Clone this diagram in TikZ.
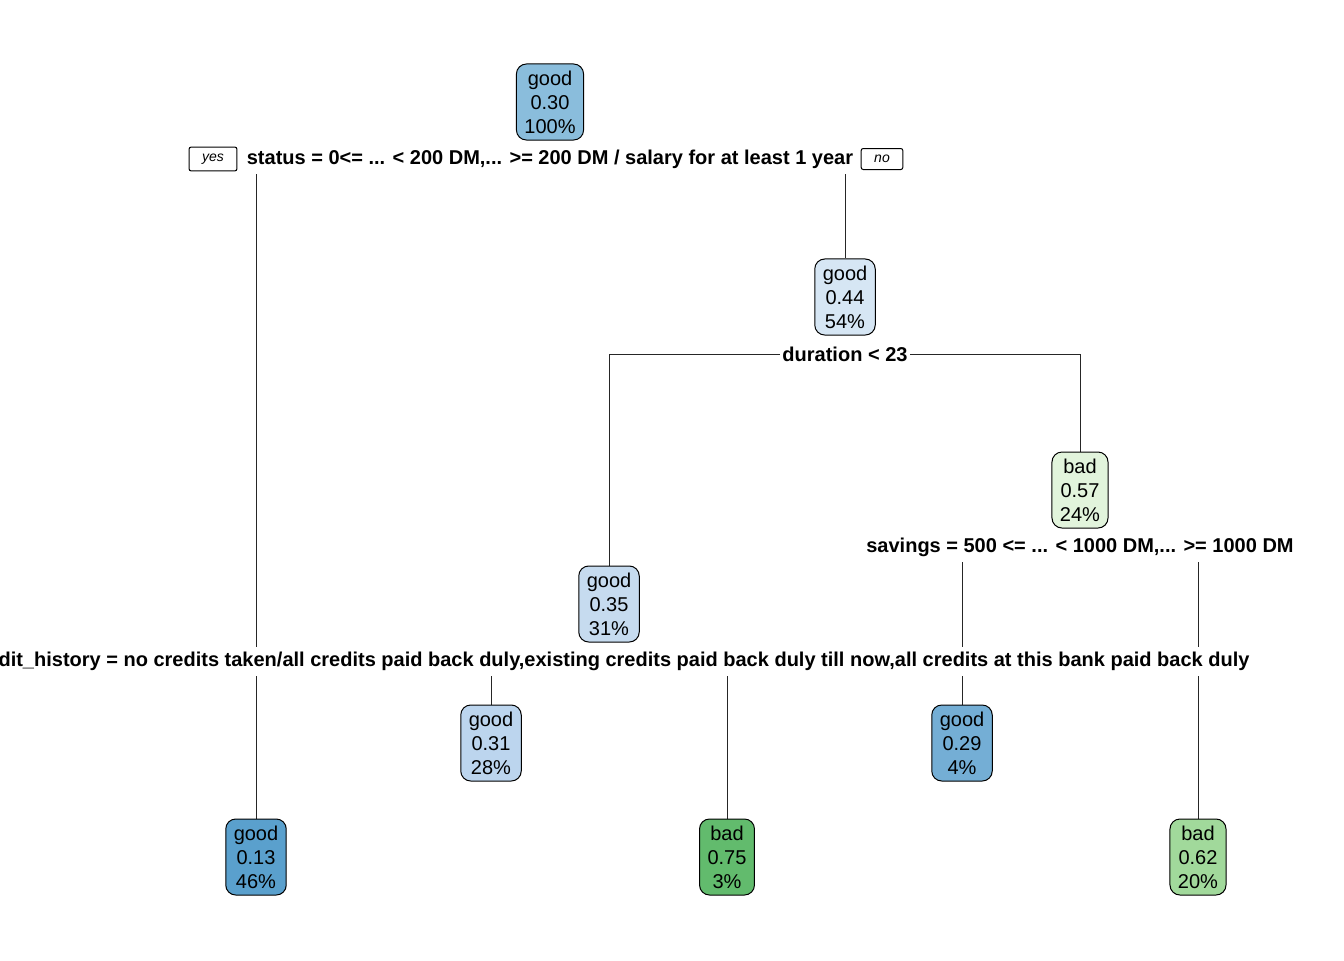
\documentclass[tikz,border=0pt]{standalone}
\usepackage{fontspec}
\setmainfont{Liberation Sans}
\usepackage{xcolor}
\usepackage{tikz}
\usetikzlibrary{positioning,backgrounds}

\definecolor{gd30}{HTML}{8ABDDC}
\definecolor{gd44}{HTML}{D6E6F4}
\definecolor{gd35}{HTML}{C6DBEF}
\definecolor{bd57}{HTML}{E2F4DC}
\definecolor{gd13}{HTML}{5AA0CD}
\definecolor{gd31}{HTML}{BCD5EE}
\definecolor{bd75}{HTML}{62BB6D}
\definecolor{gd29}{HTML}{74AED5}
\definecolor{bd62}{HTML}{A1D99B}

\begin{document}
\begin{tikzpicture}[
  x=0.5pt, y=-0.5pt,
  font=\fontsize{10pt}{12pt}\selectfont,
  leaf/.style={rectangle, rounded corners=5pt, draw, line width=0.5pt, inner xsep=4pt, minimum height=38pt, align=center},
  split/.style={fill=white, inner xsep=1pt, inner ysep=0pt, minimum height=14.5pt, font=\fontsize{10pt}{12pt}\selectfont\bfseries},
  yesno/.style={rectangle, rounded corners=1pt, draw, line width=0.5pt, inner xsep=6.5pt, minimum height=10pt, font=\fontsize{7pt}{8pt}\selectfont\itshape},
  branch/.style={line width=0.5pt, draw=black!85}
]
\useasboundingbox (0,0) rectangle (1344,960);
% Root
\node[leaf, fill=gd30] (root) at (550, 102) {good\\0.30\\100\%};
\node[split] (status) at (550, 159) {status = 0<= ... < 200 DM,... >= 200 DM / salary for at least 1 year};
\node[yesno] (yes) at (213, 159) {yes};
\node[yesno] (no) at (882, 159) {no};

% Level 2
\node[leaf, fill=gd44] (dur44) at (845, 297) {good\\0.44\\54\%};
\node[split] (duration) at (845, 354) {duration < 23};

% Level 3
\node[leaf, fill=bd57] (sav57) at (1080, 490) {bad\\0.57\\24\%};
\node[split] (savings) at (1080, 547) {savings = 500 <= ... < 1000 DM,... >= 1000 DM};
\node[leaf, fill=gd35] (cred35) at (609, 604) {good\\0.35\\31\%};
\node[split] (credit) at (609, 661) {credit\_history = no credits taken/all credits paid back duly,existing credits paid back duly till now,all credits at this bank paid back duly};

% Leaves
\node[leaf, fill=gd31] (lf31) at (491, 743) {good\\0.31\\28\%};
\node[leaf, fill=gd29] (lf29) at (962, 743) {good\\0.29\\4\%};
\node[leaf, fill=gd13] (lf13) at (256, 857) {good\\0.13\\46\%};
\node[leaf, fill=bd75] (lf75) at (727, 857) {bad\\0.75\\3\%};
\node[leaf, fill=bd62] (lf62) at (1198, 857) {bad\\0.62\\20\%};

% Branches behind the split labels
\begin{scope}[on background layer]
\draw[branch] (status.center) -| (lf13.north);
\draw[branch] (status.center) -| (dur44.north);
\draw[branch] (duration.center) -| (cred35.north);
\draw[branch] (duration.center) -| (sav57.north);
\draw[branch] (savings.center) -| (lf29.north);
\draw[branch] (savings.center) -| (lf62.north);
\draw[branch] (credit.center) -| (lf31.north);
\draw[branch] (credit.center) -| (lf75.north);
\end{scope}
\end{tikzpicture}
\end{document}
